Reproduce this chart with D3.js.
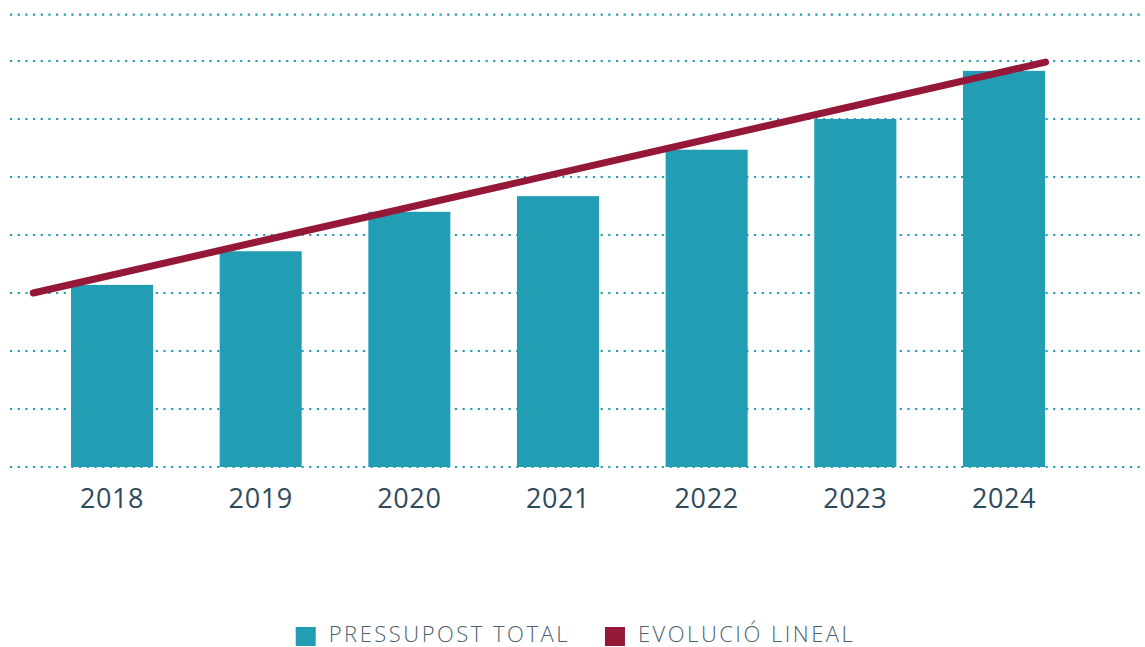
<!DOCTYPE html>
<html>
<head>
<meta charset="utf-8">
<script src="https://cdn.jsdelivr.net/npm/d3@7"></script>
<style>
  html, body { margin: 0; padding: 0; background: #fff; }
  svg { display: block; }
</style>
</head>
<body>
<div id="grafico"></div>
<script>
const years      = ["2018", "2019", "2020", "2021", "2022", "2023", "2024"];
const pressupost = [3.14, 3.72, 4.40, 4.67, 5.47, 6.00, 6.83];
// trend line endpoints, x given as position in year steps from 2018
const trendPos   = [-0.53, 6.28];
const trendVals  = [3.0, 6.98];
const gridTicks  = [0, 1, 2, 3, 4, 5, 6, 7, 7.8];
const legendItems = ["PRESSUPOST TOTAL", "EVOLUCIÓ LINEAL"];

const width  = 1145;
const height = 647;
const teal   = "#239db3";
const wine   = "#951838";

const svg = d3.select("#grafico")
              .append("svg")
              .attr("width", width)
              .attr("height", height);

const xScale = d3.scaleBand()
                 .domain(years)
                 .range([37.7, 1078.3])
                 .paddingInner(0.448)
                 .paddingOuter(0.224);

const yScale = d3.scaleLinear()
                 .domain([0, 7.8])
                 .range([467, 14.6]);

// dotted grid lines
svg.append("g")
   .selectAll("line")
   .data(gridTicks)
   .join("line")
   .attr("x1", 10)
   .attr("x2", width)
   .attr("y1", d => yScale(d))
   .attr("y2", d => yScale(d))
   .attr("stroke", teal)
   .attr("stroke-width", 2.2)
   .attr("stroke-dasharray", "2.2,5.47");

// bars
svg.append("g")
   .selectAll("rect")
   .data(pressupost)
   .join("rect")
   .attr("x", (d, i) => xScale(years[i]))
   .attr("y", d => yScale(d))
   .attr("width", xScale.bandwidth())
   .attr("height", d => yScale(0) - yScale(d))
   .attr("fill", teal);

// x axis labels
const xAxis = svg.append("g")
                 .attr("transform", `translate(0, ${yScale(0)})`)
                 .call(d3.axisBottom(xScale).tickSize(0).tickPadding(22));

xAxis.select(".domain").remove();
xAxis.selectAll("text")
     .attr("font-family", "'Open Sans', sans-serif")
     .attr("font-size", 27)
     .attr("letter-spacing", 0.6)
     .attr("fill", "#2e4a5b");

// trend line
const posScale = d3.scaleLinear()
                   .domain([0, years.length - 1])
                   .range([xScale(years[0]) + xScale.bandwidth() / 2,
                           xScale(years[years.length - 1]) + xScale.bandwidth() / 2]);

svg.append("path")
   .datum(trendPos.map((p, i) => ({ p: p, v: trendVals[i] })))
   .attr("d", d3.line()
                .x(d => posScale(d.p))
                .y(d => yScale(d.v)))
   .attr("fill", "none")
   .attr("stroke", wine)
   .attr("stroke-width", 7)
   .attr("stroke-linecap", "round");

// legend
const legend = svg.append("g");
const colors = [teal, wine];

const items = legend.selectAll("g")
                    .data(legendItems)
                    .join("g");

items.append("rect")
     .attr("width", 20)
     .attr("height", 19)
     .attr("y", 627)
     .attr("fill", (d, i) => colors[i]);

items.append("text")
     .attr("x", 33)
     .attr("y", 642)
     .attr("font-family", "'Open Sans', sans-serif")
     .attr("font-size", 22)
     .attr("font-weight", 300)
     .attr("letter-spacing", 2.5)
     .attr("fill", "#4a6070")
     .text(d => d);

let xPos = 0;
items.each(function () {
    const g = d3.select(this);
    g.attr("transform", `translate(${xPos}, 0)`);
    xPos += 33 + g.select("text").node().getBBox().width + 35;
});
const legendWidth = xPos - 35;
legend.attr("transform", `translate(${(width - legendWidth) / 2 + 3}, 0)`);
</script>
</body>
</html>
